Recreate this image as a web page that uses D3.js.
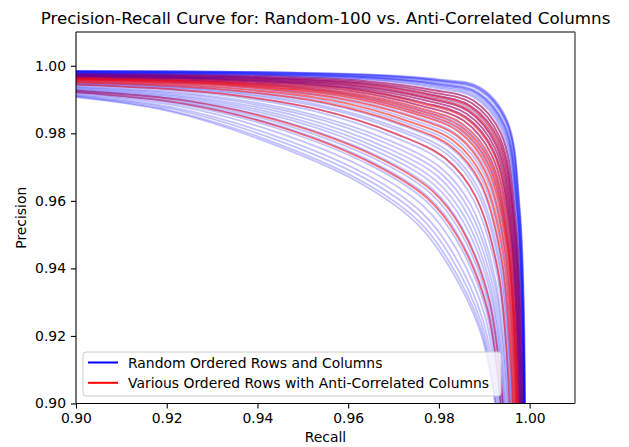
<!DOCTYPE html>
<html><head><meta charset="utf-8">
<script src="https://cdn.jsdelivr.net/npm/d3@7"></script>
<style>
html,body{margin:0;padding:0;background:#fff;}
text{font-family:"DejaVu Sans",sans-serif;}
</style></head>
<body><svg id="c" width="629" height="447"></svg>
<script>
const title = "Precision-Recall Curve for: Random-100 vs. Anti-Correlated Columns";
const xLabel = "Recall";
const yLabel = "Precision";
const xTicks = [0.90, 0.92, 0.94, 0.96, 0.98, 1.00];
const yTicks = [0.90, 0.92, 0.94, 0.96, 0.98, 1.00];
const legendLabels = ["Random Ordered Rows and Columns", "Various Ordered Rows with Anti-Correlated Columns"];

// Random-ordered curves: [recall, precision] points
const blueCurves = [
[[.9,.9985],[.94,.9982],[.967,.9973],[.98,.996],[.989,.9937],[.995,.984],[.9978,.958],[.999,.9]],
[[.9,.9985],[.9399,.9981],[.9669,.9972],[.9799,.9958],[.9889,.9935],[.9949,.9838],[.9978,.9578],[.999,.9]],
[[.9,.9984],[.9398,.9981],[.9667,.9971],[.9798,.9957],[.9889,.9933],[.9949,.9836],[.9977,.9576],[.9989,.9]],
[[.9,.9984],[.9397,.998],[.9666,.997],[.9797,.9955],[.9888,.9931],[.9948,.9834],[.9977,.9575],[.9989,.9]],
[[.9,.9983],[.9396,.998],[.9665,.9969],[.9797,.9954],[.9887,.9929],[.9947,.9832],[.9976,.9573],[.9989,.9]],
[[.9,.9982],[.9393,.9978],[.9661,.9966],[.9794,.995],[.9885,.9923],[.9945,.9825],[.9975,.9567],[.9988,.9]],
[[.9,.9981],[.9391,.9977],[.9658,.9965],[.9792,.9946],[.9884,.9919],[.9944,.9821],[.9974,.9564],[.9988,.9]],
[[.9,.998],[.9388,.9975],[.9654,.9962],[.979,.9942],[.9882,.9913],[.9942,.9815],[.9973,.9558],[.9989,.9]],
[[.9,.998],[.9386,.9974],[.9651,.996],[.9788,.9939],[.988,.9909],[.9941,.981],[.9972,.9555],[.9988,.9]],
[[.9,.9982],[.9392,.9977],[.9659,.9965],[.9793,.9948],[.9884,.9921],[.9945,.9823],[.9974,.9566],[.9988,.9]],
[[.9,.9981],[.939,.9976],[.9657,.9964],[.9791,.9945],[.9883,.9917],[.9943,.9819],[.9974,.9562],[.9987,.9]],
[[.9,.9979],[.9384,.9973],[.9648,.9958],[.9786,.9935],[.9879,.9905],[.9939,.9806],[.9971,.9551],[.9987,.9]],
[[.9,.9977],[.938,.9971],[.9643,.9954],[.9783,.9929],[.9876,.9897],[.9937,.9798],[.9969,.9544],[.9986,.9]],
[[.9,.9976],[.9376,.9968],[.9638,.995],[.9779,.9923],[.9873,.9889],[.9934,.9789],[.9967,.9537],[.9985,.9]],
[[.9,.9974],[.9372,.9966],[.9632,.9947],[.9776,.9917],[.987,.9881],[.9932,.9781],[.9966,.9529],[.9983,.9]],
[[.9,.9973],[.9368,.9964],[.9627,.9943],[.9772,.9911],[.9868,.9873],[.9929,.9772],[.9964,.9522],[.9982,.9]],
[[.9,.9971],[.9364,.9961],[.9621,.9939],[.9769,.9905],[.9865,.9865],[.9926,.9764],[.9962,.9515],[.9981,.9]],
[[.9,.9969],[.936,.9959],[.9616,.9935],[.9765,.9899],[.9862,.9857],[.9924,.9755],[.996,.9508],[.9979,.9]],
[[.9,.9968],[.9356,.9957],[.9611,.9932],[.9762,.9892],[.9859,.9849],[.9921,.9747],[.9959,.95],[.9978,.9]],
[[.9,.9966],[.935,.9953],[.9603,.9926],[.9757,.9883],[.9855,.9837],[.9917,.9734],[.9956,.949],[.9976,.9]],
[[.9,.9963],[.9344,.995],[.9594,.992],[.9751,.9874],[.9851,.9824],[.9913,.9721],[.9953,.9479],[.9974,.9]],
[[.9,.9962],[.934,.9948],[.9589,.9917],[.9748,.9868],[.9848,.9816],[.991,.9713],[.9952,.9471],[.9972,.9]],
[[.9,.996],[.9336,.9945],[.9584,.9913],[.9744,.9862],[.9845,.9808],[.9908,.9704],[.995,.9464],[.9971,.9]],
[[.9,.9958],[.933,.9942],[.9576,.9907],[.9739,.9853],[.9841,.9796],[.9904,.9692],[.9947,.9453],[.9969,.9]],
[[.9,.9955],[.9324,.9938],[.9567,.9902],[.9734,.9843],[.9837,.9784],[.99,.9679],[.9945,.9442],[.9967,.9]],
[[.9,.9952],[.9316,.9934],[.9557,.9894],[.9727,.9831],[.9831,.9768],[.9895,.9662],[.9941,.9428],[.9964,.9]],
[[.9,.995],[.931,.993],[.9549,.9888],[.9722,.9822],[.9827,.9756],[.9891,.9649],[.9938,.9417],[.9962,.9]],
[[.9,.9948],[.9304,.9927],[.954,.9883],[.9716,.9813],[.9823,.9744],[.9887,.9636],[.9936,.9406],[.996,.9]],
[[.9,.9946],[.93,.9925],[.9535,.9879],[.9713,.9807],[.982,.9736],[.9884,.9628],[.9934,.94],[.9959,.9]],
[[.9,.9944],[.9294,.9921],[.9527,.9873],[.9708,.9797],[.9816,.9724],[.988,.9615],[.9931,.9388],[.9956,.9]],
[[.9,.9941],[.9288,.9918],[.9519,.9868],[.9703,.9788],[.9812,.9712],[.9876,.9603],[.9929,.9377],[.9954,.9]],
[[.9,.9938],[.928,.9913],[.9508,.986],[.9696,.9776],[.9806,.9696],[.9871,.9586],[.9925,.9363],[.9952,.9]],
[[.9,.9936],[.9274,.991],[.95,.9855],[.969,.9767],[.9802,.9684],[.9867,.9573],[.9923,.9352],[.995,.9]],
[[.9,.9934],[.9268,.9906],[.9492,.9849],[.9685,.9757],[.9798,.9672],[.9863,.956],[.992,.9341],[.9947,.9]],
[[.9,.9931],[.9262,.9903],[.9484,.9843],[.968,.9748],[.9793,.966],[.9859,.9547],[.9917,.933],[.9945,.9]],
[[.9,.9929],[.9256,.9899],[.9476,.9838],[.9675,.9739],[.9789,.9648],[.9855,.9535],[.9915,.9319],[.9943,.9]],
[[.9,.9927],[.925,.9896],[.9468,.9832],[.967,.973],[.9785,.9636],[.9851,.9522],[.9912,.9309],[.9941,.9]],
[[.9,.9924],[.9244,.9892],[.9459,.9826],[.9664,.9721],[.9781,.9623],[.9847,.9509],[.9909,.9298],[.9939,.9]],
[[.9,.9922],[.9238,.9889],[.9451,.9821],[.9659,.9711],[.9777,.9611],[.9843,.9497],[.9907,.9287],[.9937,.9]],
[[.9,.9919],[.9232,.9885],[.9443,.9815],[.9654,.9702],[.9772,.9599],[.9839,.9484],[.9904,.9276],[.9935,.9]],
[[.9,.9916],[.9224,.9881],[.9432,.9808],[.9647,.969],[.9767,.9583],[.9834,.9467],[.9901,.9261],[.9932,.9]],
[[.9,.9913],[.9216,.9876],[.9422,.98],[.964,.9678],[.9761,.9567],[.9829,.945],[.9897,.9247],[.993,.9]],
[[.9,.9911],[.921,.9873],[.9414,.9794],[.9635,.9668],[.9757,.9555],[.9825,.9437],[.9894,.9236],[.9927,.9]],
[[.9,.9909],[.9204,.9869],[.9405,.9789],[.9629,.9659],[.9753,.9543],[.9821,.9424],[.9892,.9225],[.9925,.9]],
[[.9,.9907],[.92,.9867],[.94,.9785],[.9626,.9653],[.975,.9535],[.9818,.9416],[.989,.9218],[.9924,.9]]
];

// Anti-correlated column curves
const redCurves = [
[[.9,.9977],[.938,.9971],[.9643,.9954],[.9783,.9929],[.9876,.9897],[.9937,.9798],[.9969,.9544],[.9986,.9]],
[[.9,.9976],[.9376,.9968],[.9638,.995],[.9779,.9923],[.9873,.9889],[.9934,.9789],[.9967,.9537],[.9985,.9]],
[[.9,.9974],[.9372,.9966],[.9632,.9947],[.9776,.9917],[.987,.9881],[.9932,.9781],[.9966,.9529],[.9983,.9]],
[[.9,.9973],[.937,.9965],[.963,.9945],[.9774,.9914],[.9869,.9877],[.993,.9776],[.9965,.9526],[.9983,.9]],
[[.9,.9972],[.9366,.9962],[.9624,.9941],[.977,.9908],[.9866,.9869],[.9928,.9768],[.9963,.9518],[.9981,.9]],
[[.9,.9971],[.9364,.9961],[.9621,.9939],[.9769,.9905],[.9865,.9865],[.9926,.9764],[.9962,.9515],[.9981,.9]],
[[.9,.9969],[.936,.9959],[.9616,.9935],[.9765,.9899],[.9862,.9857],[.9924,.9755],[.996,.9508],[.9979,.9]],
[[.9,.9968],[.9356,.9957],[.9611,.9932],[.9762,.9892],[.9859,.9849],[.9921,.9747],[.9959,.95],[.9978,.9]],
[[.9,.9967],[.9354,.9956],[.9608,.993],[.976,.9889],[.9858,.9845],[.992,.9742],[.9958,.9497],[.9977,.9]],
[[.9,.9966],[.935,.9953],[.9603,.9926],[.9757,.9883],[.9855,.9837],[.9917,.9734],[.9956,.949],[.9976,.9]],
[[.9,.9964],[.9346,.9951],[.9597,.9922],[.9753,.9877],[.9852,.9828],[.9914,.9726],[.9954,.9482],[.9974,.9]],
[[.9,.9962],[.9342,.9949],[.9592,.9918],[.975,.9871],[.9849,.982],[.9912,.9717],[.9952,.9475],[.9973,.9]],
[[.9,.9961],[.9338,.9946],[.9586,.9915],[.9746,.9865],[.9847,.9812],[.9909,.9709],[.9951,.9468],[.9972,.9]],
[[.9,.9959],[.9334,.9944],[.9581,.9911],[.9743,.9859],[.9844,.9804],[.9906,.97],[.9949,.9461],[.997,.9]],
[[.9,.9957],[.9328,.9941],[.9573,.9905],[.9737,.985],[.984,.9792],[.9902,.9687],[.9946,.945],[.9968,.9]],
[[.9,.9954],[.932,.9936],[.9562,.9898],[.973,.9837],[.9834,.9776],[.9897,.967],[.9943,.9435],[.9965,.9]],
[[.9,.9951],[.9312,.9931],[.9551,.989],[.9723,.9825],[.9828,.976],[.9892,.9653],[.9939,.9421],[.9963,.9]],
[[.9,.9944],[.9294,.9921],[.9527,.9873],[.9708,.9797],[.9816,.9724],[.988,.9615],[.9931,.9388],[.9956,.9]],
[[.9,.9926],[.9248,.9895],[.9465,.983],[.9668,.9727],[.9784,.9631],[.985,.9518],[.9911,.9305],[.9941,.9]],
[[.9,.9921],[.9236,.9888],[.9449,.9819],[.9657,.9708],[.9775,.9607],[.9842,.9492],[.9906,.9283],[.9936,.9]]
];

const colors = {blue: "#0000ff", red: "#ff0000"};

const svg = d3.select("#c");
const M = {left: 76, right: 575, top: 32, bottom: 403.5};
const x = d3.scaleLinear().domain([0.90, 1.01]).range([M.left, M.right]);
const y = d3.scaleLinear().domain([0.90, 1.01]).range([M.bottom, M.top]);

svg.append("defs").append("clipPath").attr("id", "clip")
  .append("rect").attr("x", M.left).attr("y", M.top)
  .attr("width", M.right - M.left).attr("height", M.bottom - M.top);

const line = d3.line().x(d => x(d[0])).y(d => y(d[1])).curve(d3.curveCatmullRom.alpha(0.5));
const g = svg.append("g").attr("clip-path", "url(#clip)");

// interleave drawing order: each red curve followed by two blue curves
const drawList = [];
let bi = 0;
redCurves.forEach((c, i) => {
  drawList.push({pts: c, color: colors.red, op: 0.55});
  for (let k = 0; k < 2 && bi < blueCurves.length; k++, bi++)
    drawList.push({pts: blueCurves[bi], color: colors.blue, op: 0.24});
});
while (bi < blueCurves.length) { drawList.push({pts: blueCurves[bi], color: colors.blue, op: 0.24}); bi++; }

g.selectAll("path.pr").data(drawList).join("path").attr("class", "pr")
  .attr("d", d => line(d.pts)).attr("fill", "none").attr("stroke", d => d.color)
  .attr("stroke-opacity", d => d.op).attr("stroke-width", 1.8);

// axes
const xAxis = svg.append("g").attr("transform", `translate(0,${M.bottom})`)
  .call(d3.axisBottom(x).tickValues(xTicks).tickFormat(d3.format(".2f")).tickSize(5).tickPadding(5));
const yAxis = svg.append("g").attr("transform", `translate(${M.left},0)`)
  .call(d3.axisLeft(y).tickValues(yTicks).tickFormat(d3.format(".2f")).tickSize(5).tickPadding(5));
[xAxis, yAxis].forEach(a => {
  a.select(".domain").remove();
  a.selectAll("text").attr("font-family", "DejaVu Sans").attr("font-size", 13.9).attr("fill", "#000");
  a.selectAll("line").attr("stroke", "#000").attr("stroke-width", 1.1);
});

// frame
const fr = svg.append("g");
fr.append("line").attr("x1", M.left).attr("x2", M.right).attr("y1", M.top).attr("y2", M.top).attr("stroke", "#000").attr("stroke-width", 1.1);
fr.append("line").attr("x1", M.left).attr("x2", M.left).attr("y1", M.top).attr("y2", M.bottom).attr("stroke", "#000").attr("stroke-width", 1.1);
fr.append("line").attr("x1", M.left).attr("x2", M.right).attr("y1", M.bottom).attr("y2", M.bottom).attr("stroke", "#000").attr("stroke-width", 1.1);
fr.append("line").attr("x1", M.right).attr("x2", M.right).attr("y1", M.top).attr("y2", M.bottom).attr("stroke", "#6a6a6a").attr("stroke-width", 1.6);

// labels
svg.append("text").attr("x", (M.left + M.right) / 2).attr("y", 23.5).attr("text-anchor", "middle")
  .attr("font-size", 16.7).text(title);
svg.append("text").attr("x", (M.left + M.right) / 2).attr("y", 442).attr("text-anchor", "middle")
  .attr("font-size", 13.9).text(xLabel);
svg.append("text").attr("transform", `translate(26,${(M.top + M.bottom) / 2}) rotate(-90)`)
  .attr("text-anchor", "middle").attr("font-size", 13.9).text(yLabel);

// legend
const lg = svg.append("g");
lg.append("rect").attr("x", 83).attr("y", 352).attr("width", 418).attr("height", 44).attr("rx", 3)
  .attr("fill", "#fff").attr("fill-opacity", 0.8).attr("stroke", "#cccccc").attr("stroke-width", 1);
[colors.blue, colors.red].forEach((c, i) => {
  const yy = 362.5 + i * 20.3;
  lg.append("line").attr("x1", 88).attr("x2", 118).attr("y1", yy).attr("y2", yy)
    .attr("stroke", c).attr("stroke-width", 2);
  lg.append("text").attr("x", 128).attr("y", yy + 5).attr("font-size", 13.9).text(legendLabels[i]);
});
</script></body></html>
